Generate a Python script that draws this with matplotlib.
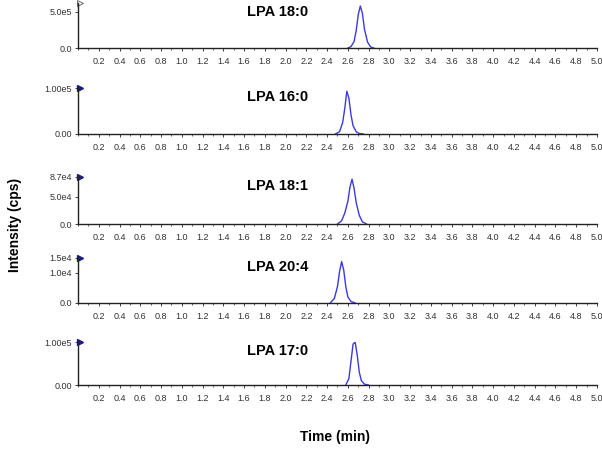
import matplotlib.pyplot as plt
from matplotlib.ticker import FixedLocator, FixedFormatter, MultipleLocator

plt.rcParams['font.family'] = ['Liberation Sans', 'DejaVu Sans']

# compound names, one per panel
names = ['LPA 18:0', 'LPA 16:0', 'LPA 18:1', 'LPA 20:4', 'LPA 17:0']

# chromatogram points (time in min, intensity in cps)
t_180 = [2.60, 2.63, 2.66, 2.68, 2.70, 2.72, 2.74, 2.76, 2.79, 2.82, 2.85]
i_180 = [0, 0.2e5, 0.9e5, 2.4e5, 4.6e5, 5.8e5, 4.8e5, 2.6e5, 0.8e5, 0.15e5, 0]

t_160 = [2.48, 2.52, 2.55, 2.57, 2.59, 2.61, 2.63, 2.65, 2.68, 2.71, 2.75]
i_160 = [0, 0.05e5, 0.25e5, 0.55e5, 0.93e5, 0.78e5, 0.42e5, 0.18e5, 0.05e5, 0.01e5, 0]

t_181 = [2.50, 2.54, 2.57, 2.60, 2.62, 2.64, 2.66, 2.68, 2.71, 2.74, 2.78]
i_181 = [0, 0.6e4, 2.0e4, 4.2e4, 6.8e4, 8.3e4, 6.6e4, 4.0e4, 1.6e4, 0.4e4, 0]

t_204 = [2.43, 2.47, 2.50, 2.52, 2.54, 2.56, 2.58, 2.60, 2.63, 2.67]
i_204 = [0, 0.15e4, 0.55e4, 1.05e4, 1.38e4, 1.1e4, 0.55e4, 0.2e4, 0.05e4, 0]

t_170 = [2.58, 2.61, 2.63, 2.65, 2.67, 2.69, 2.71, 2.73, 2.76, 2.80]
i_170 = [0, 0.15e5, 0.55e5, 0.95e5, 1.0e5, 0.7e5, 0.3e5, 0.1e5, 0.02e5, 0]

times = [t_180, t_160, t_181, t_204, t_170]
intens = [i_180, i_160, i_181, i_204, i_170]

# y axis ranges and tick labels as shown
y_max = [6.2e5, 1.0e5, 8.7e4, 1.5e4, 1.0e5]
y_ticks = [[0, 5e5], [0, 1e5], [0, 5e4, 8.7e4], [0, 1e4, 1.5e4], [0, 1e5]]
y_labels = [['0.0', '5.0e5'], ['0.00', '1.00e5'], ['0.0', '5.0e4', '8.7e4'],
            ['0.0', '1.0e4', '1.5e4'], ['0.00', '1.00e5']]
x_ticks = [0.2, 0.4, 0.6, 0.8, 1.0, 1.2, 1.4, 1.6, 1.8, 2.0, 2.2, 2.4, 2.6, 2.8,
           3.0, 3.2, 3.4, 3.6, 3.8, 4.0, 4.2, 4.4, 4.6, 4.8, 5.0]

# panel placement (bottom, height) in figure fractions
boxes = [(0.893, 0.100), (0.7016, 0.1024), (0.5011, 0.1047), (0.3252, 0.1002), (0.1425, 0.0958)]

fig = plt.figure(figsize=(6.02, 4.49), dpi=100)

for k in range(5):
    b, h = boxes[k]
    ax = fig.add_axes([0.1296, b, 0.862, h])
    ax.plot(times[k], intens[k], color='#3a3ae0', lw=1.0)
    ax.set_xlim(0, 5.0)
    ax.set_ylim(0, y_max[k])
    ax.spines['top'].set_visible(False)
    ax.spines['right'].set_visible(False)
    for s in ['left', 'bottom']:
        ax.spines[s].set_linewidth(1.0)
        ax.spines[s].set_color('#222222')

    ax.xaxis.set_major_locator(FixedLocator(x_ticks))
    ax.xaxis.set_major_formatter(FixedFormatter(['%.1f' % v for v in x_ticks]))
    ax.xaxis.set_minor_locator(MultipleLocator(0.1))
    ax.yaxis.set_major_locator(FixedLocator(y_ticks[k]))
    ax.yaxis.set_major_formatter(FixedFormatter(y_labels[k]))
    ax.tick_params(axis='both', which='major', labelsize=6.5, length=2.5, width=0.6,
                   pad=2, colors='#222222', labelcolor='#333333')
    ax.tick_params(axis='x', which='major', pad=4)
    ax.tick_params(axis='both', which='minor', length=1.5, width=0.5, color='#222222')

    # triangle marker at top of y axis
    if k == 0:
        ax.plot(0.02, y_max[k], marker='>', ms=5, mfc='white', mec='#555555',
                mew=0.6, clip_on=False)
    else:
        ax.plot(0.02, y_max[k], marker='>', ms=5, color='#1a1a8c', clip_on=False)

    ax.text(0.385, 0.80, names[k], transform=ax.transAxes, ha='center', va='center',
            fontsize=10.5, fontweight='bold')

fig.text(0.025, 0.5, 'Intensity (cps)', rotation=90, ha='center', va='center',
         fontsize=10, fontweight='bold')
fig.text(0.556, 0.027, 'Time (min)', ha='center', va='center',
         fontsize=10, fontweight='bold')

fig.savefig('out.png', dpi=100)
